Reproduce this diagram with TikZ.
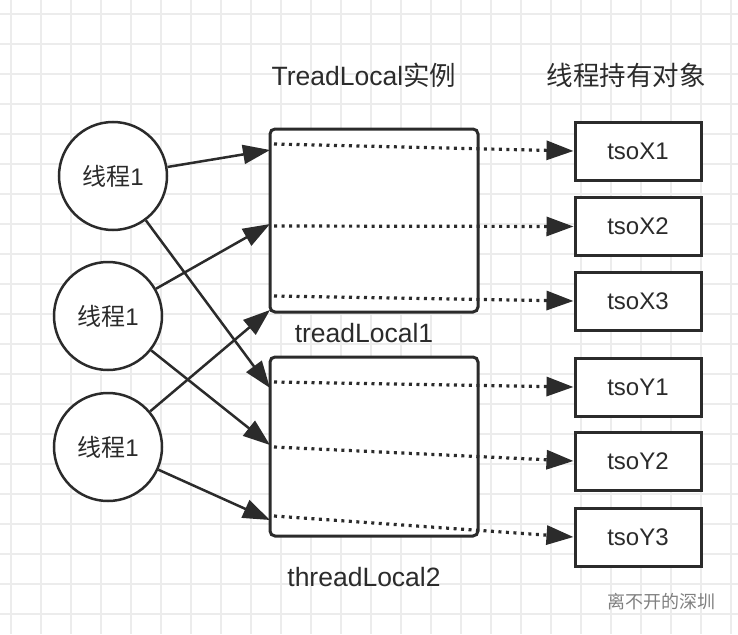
\documentclass[tikz,border=0pt]{standalone}
\usepackage{fontspec}
\setmainfont{Liberation Sans}
\newfontfamily\cjk{Noto Sans CJK SC}
\usetikzlibrary{arrows.meta}
\definecolor{ink}{HTML}{2B2B2B}
\definecolor{gridgray}{HTML}{ECECEC}
\begin{document}
\begin{tikzpicture}[x=1pt, y=-1pt]
\tikzset{ >={Triangle[length=27pt,width=19pt]},
  thread/.style={draw=ink, circle, line width=2.5pt, minimum size=108pt, inner sep=0pt, text=ink, font=\fontsize{24}{24}\selectfont},
  tlbox/.style={draw=ink, line width=3pt, rounded corners=5pt, minimum width=208pt, inner sep=0pt},
  tsobox/.style={draw=ink, line width=3pt, minimum width=126pt, minimum height=58pt, inner sep=0pt, text=ink, font=\fontsize{24}{24}\selectfont},
  title/.style={text=ink, font=\fontsize{26.5}{26.5}\selectfont},
  link/.style={->, draw=ink, line width=2.5pt},
  ref/.style={->, draw=ink, line width=3.2pt, dash pattern=on 3pt off 4.5pt},
}
\useasboundingbox (0,0) rectangle (738,634);

% grid
\foreach \x in {11,41,...,731} \draw [gridgray, line width=1.5pt] (\x,0) -- (\x,634);
\foreach \y in {14,44,...,614} \draw [gridgray, line width=1.5pt] (0,\y) -- (738,\y);

\node [title] (TL) at (364,75) {TreadLocal{\cjk 实例}};
\node [title] (TO) at (626,75) {\cjk 线程持有对象};

\node [thread, fill=white] (C1) at (113,176) {{\cjk 线程}1};
\node [thread, fill=white] (C2) at (108,316) {{\cjk 线程}1};
\node [thread, fill=white] (C3) at (108,447) {{\cjk 线程}1};

\node [tlbox, fill=white, minimum height=183pt] (B1) at (374,220.5) {};
\node [tlbox, fill=white, minimum height=179pt] (B2) at (374,446.5) {};

\node [title] (N1) at (364,333) {treadLocal1};
\node [title] (N2) at (364,577) {threadLocal2};

\node [tsobox, fill=white] (X1) at (638,151)   {tsoX1};
\node [tsobox, fill=white] (X2) at (638,226.5) {tsoX2};
\node [tsobox, fill=white] (X3) at (638,301)   {tsoX3};
\node [tsobox, fill=white] (Y1) at (638,387)   {tsoY1};
\node [tsobox, fill=white] (Y2) at (638,461)   {tsoY2};
\node [tsobox, fill=white] (Y3) at (638,537)   {tsoY3};

% arrow ends on the left side of the boxes
\coordinate (a1) at (270,150);
\coordinate (a2) at (270,224);
\coordinate (a3) at (270,310);
\coordinate (b1) at (270,388);
\coordinate (b2) at (270,445);
\coordinate (b3) at (270,520);

\draw [link] (C1) -- (a1);
\draw [link] (C1) -- (b1);
\draw [link] (C2) -- (a2);
\draw [link] (C2) -- (b2);
\draw [link] (C3) -- (a3);
\draw [link] (C3) -- (b3);

% dotted references
\coordinate (d1) at (274,144);
\coordinate (d2) at (274,226);
\coordinate (d3) at (274,296);
\coordinate (e1) at (274,382);
\coordinate (e2) at (274,447);
\coordinate (e3) at (274,516);

\draw [ref] (d1) -- (X1.west);
\draw [ref] (d2) -- (X2.west);
\draw [ref] (d3) -- (X3.west);
\draw [ref] (e1) -- (Y1.west);
\draw [ref] (e2) -- (Y2.west);
\draw [ref] (e3) -- (Y3.west);

\node [text=gray, font=\fontsize{18}{18}\cjk] (W) at (661,602) {离不开的深圳};
\end{tikzpicture}
\end{document}
